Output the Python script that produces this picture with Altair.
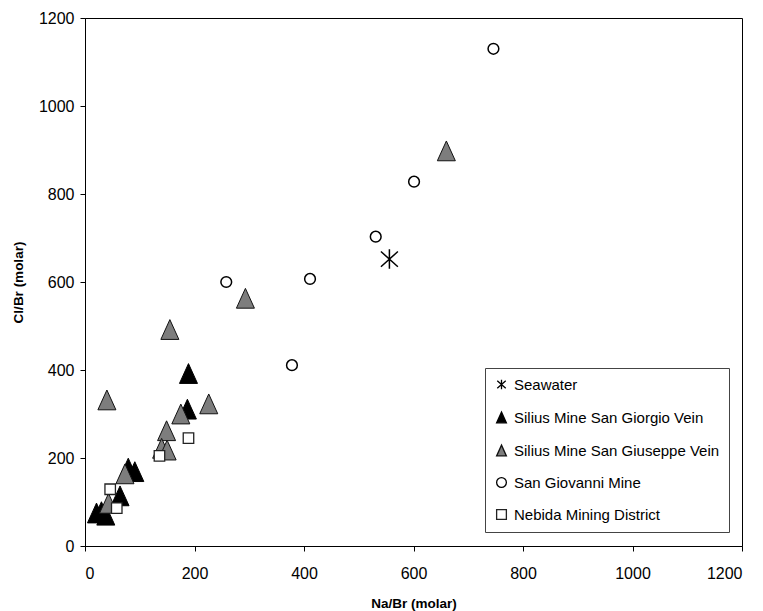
import altair as alt
import pandas as pd

# ---- data ----
series_names = [
    "Seawater",
    "Silius Mine San Giorgio Vein",
    "Silius Mine San Giuseppe Vein",
    "San Giovanni Mine",
    "Nebida Mining District",
]

seawater_x = [556]
seawater_y = [652]

giorgio_x = [189, 187, 79, 91, 64, 21, 30, 38]
giorgio_y = [392, 311, 177, 169, 114, 75, 78, 70]

giuseppe_x = [660, 293, 155, 40, 226, 175, 149, 140, 150, 73, 43]
giuseppe_y = [898, 563, 492, 332, 323, 300, 262, 222, 218, 164, 97]

giovanni_x = [746, 601, 531, 411, 258, 378]
giovanni_y = [1130, 828, 703, 607, 600, 411]

nebida_x = [189, 136, 46, 58]
nebida_y = [245, 205, 129, 86]

axis_ticks = [0, 200, 400, 600, 800, 1000, 1200]

series_data = [
    (series_names[0], seawater_x, seawater_y),
    (series_names[1], giorgio_x, giorgio_y),
    (series_names[2], giuseppe_x, giuseppe_y),
    (series_names[3], giovanni_x, giovanni_y),
    (series_names[4], nebida_x, nebida_y),
]

asterisk = "M0,-1L0,1M-0.87,-0.78L0.87,0.78M-0.87,0.78L0.87,-0.78"
triangle = "M0,-1.1L1,1.1L-1,1.1Z"

shape_range = [asterisk, triangle, triangle, "circle", "square"]
fill_range = ["transparent", "#000000", "#7d7d7d", "#ffffff", "#ffffff"]
stroke_range = ["#000000", "#000000", "#111111", "#000000", "#222222"]
mark_sizes = [380, 324, 324, 115, 110]
mark_strokes = [1.5, 1, 1, 1.5, 1.3]

legend = alt.Legend(
    title=None,
    orient="none",
    legendX=400,
    legendY=350,
    padding=9,
    rowPadding=16,
    labelOffset=5,
    labelFontSize=15,
    labelFont="Liberation Sans",
    labelColor="#000000",
    labelLimit=400,
    symbolSize=95,
    symbolStrokeWidth=1.3,
    strokeColor="#444444",
    fillColor="#ffffff",
)

x_enc = alt.X(
    "nabr:Q",
    scale=alt.Scale(domain=[0, 1200], nice=False),
    axis=alt.Axis(
        title="Na/Br (molar)",
        values=axis_ticks,
        format="d",
        labelPadding=14,
        titleX=328.5,
        titleY=57,
        titleBaseline="middle",
    ),
)
y_enc = alt.Y(
    "clbr:Q",
    scale=alt.Scale(domain=[0, 1200], nice=False),
    axis=alt.Axis(
        title="Cl/Br (molar)",
        values=axis_ticks,
        format="d",
        labelPadding=6,
        titleX=-67,
        titleY=264,
        titleAngle=270,
        titleBaseline="middle",
        titleAlign="center",
    ),
)
shape_enc = alt.Shape("series:N", scale=alt.Scale(domain=series_names, range=shape_range), legend=legend)
fill_enc = alt.Fill("series:N", scale=alt.Scale(domain=series_names, range=fill_range), legend=legend)
stroke_enc = alt.Stroke("series:N", scale=alt.Scale(domain=series_names, range=stroke_range), legend=legend)

layers = []
for (name, xs, ys), sz, sw in zip(series_data, mark_sizes, mark_strokes):
    d = pd.DataFrame({"series": [name] * len(xs), "nabr": xs, "clbr": ys})
    layers.append(
        alt.Chart(d)
        .mark_point(filled=True, opacity=1, size=sz, strokeWidth=sw)
        .encode(x=x_enc, y=y_enc, shape=shape_enc, fill=fill_enc, stroke=stroke_enc)
    )

chart = (
    alt.layer(*layers)
    .properties(
        width=657,
        height=528,
        padding={"left": 85, "top": 18, "right": 21, "bottom": 65},
        autosize="none",
        background="#ffffff",
    )
    .configure_view(stroke="#000000", strokeWidth=1)
    .configure_axis(
        grid=False,
        domainColor="#000000",
        tickColor="#000000",
        tickSize=5,
        labelFont="Liberation Sans",
        labelFontSize=16,
        labelColor="#000000",
        titleFont="Liberation Sans",
        titleFontSize=13.5,
        titleFontWeight="bold",
        titleColor="#000000",
    )
)

chart.save("out.html", embed_options={"renderer": "svg", "actions": False})
